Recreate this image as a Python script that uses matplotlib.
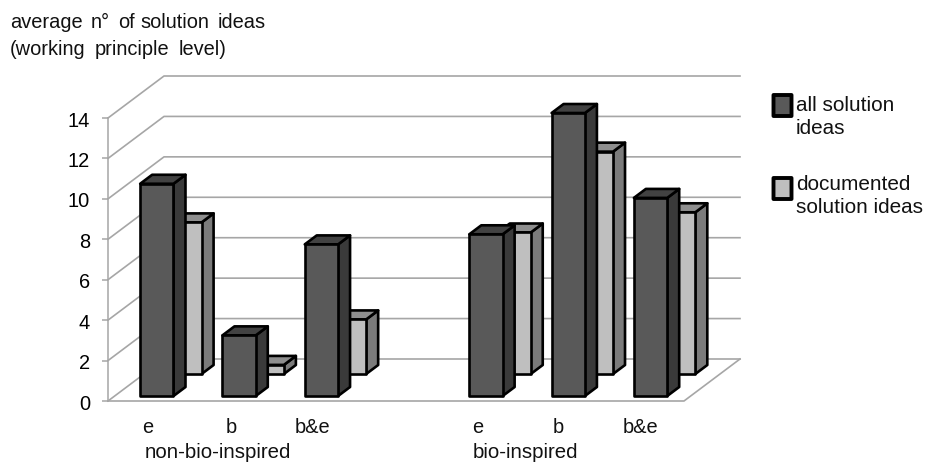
# %%
import matplotlib
matplotlib.use('Agg')
import matplotlib.pyplot as plt
from matplotlib.patches import Polygon, FancyBboxPatch

plt.rcParams['font.family'] = ['Liberation Sans', 'DejaVu Sans']

# %%
categories = ['e', 'b', 'b&e', '', 'e', 'b', 'b&e']
groups = ['non-bio-inspired', 'bio-inspired']
all_ideas = [10.5, 3.0, 7.5, None, 8.0, 14.0, 9.8]
documented = [7.5, 0.45, 2.7, None, 7.0, 11.0, 8.0]
y_ticks = [0, 2, 4, 6, 8, 10, 12, 14]

W, H = 926, 464
# pixel size of the plot box front face
left, right, bottom, top = 108, 684, 402, 119
# full chart depth in data units (56 px across, 42 px up)
depth_x = 56 / ((right - left) / 7)
depth_y = 42 / ((bottom - top) / 14)

grid_col = '#a6a6a6'
dark = ('#595959', '#3a3a3a', '#424242')
light = ('#bfbfbf', '#7b7b7b', '#8e8e8e')
fs = 14.4
fs_wide = 14.7
fs_legend = 14.95

# %%
def proj(x, y, d):
    return x + d * depth_x, y + d * depth_y

def box(ax, x0, x1, val, d0, d1, cols, z):
    front = [proj(x0, 0, d0), proj(x1, 0, d0), proj(x1, val, d0), proj(x0, val, d0)]
    side = [proj(x1, 0, d0), proj(x1, 0, d1), proj(x1, val, d1), proj(x1, val, d0)]
    lid = [proj(x0, val, d0), proj(x1, val, d0), proj(x1, val, d1), proj(x0, val, d1)]
    for pts, c in zip((side, lid, front), (cols[1], cols[2], cols[0])):
        ax.add_patch(Polygon(pts, closed=True, fc=c, ec='black', lw=1.9,
                             joinstyle='round', clip_on=False, zorder=z))

# %%
fig = plt.figure(figsize=(W / 100, H / 100), dpi=100)
ax = fig.add_axes([left / W, 1 - bottom / H, (right - left) / W, (bottom - top) / H])
ax.set_xlim(0, 7)
ax.set_ylim(0, 14)
ax.patch.set_visible(False)

for s in ['top', 'right', 'bottom']:
    ax.spines[s].set_visible(False)
ax.spines['left'].set_color(grid_col)
ax.spines['left'].set_linewidth(1.1)
ax.set_xticks([])
ax.set_yticks(y_ticks)
ax.tick_params(axis='y', color=grid_col, width=1.1, length=4, pad=9, labelsize=fs)

# back wall, side wall and floor lines
for v in y_ticks:
    xs, ys = zip(proj(0, v, 0), proj(0, v, 1), proj(7, v, 1))
    ax.plot(xs, ys, color=grid_col, lw=1.2, clip_on=False, zorder=1)
xs, ys = zip(proj(0, 0, 0), proj(7, 0, 0), proj(7, 0, 1))
ax.plot(xs, ys, color=grid_col, lw=1.2, clip_on=False, zorder=1)

# back row first so the front row covers it
for i, v in enumerate(documented):
    if v is not None:
        box(ax, i + 0.3, i + 0.7, v, 0.643, 0.857, light, 2 + i * 0.01)
for i, v in enumerate(all_ideas):
    if v is not None:
        box(ax, i + 0.31, i + 0.715, v, 0.119, 0.333, dark, 3 + i * 0.01)

# %%
def px_text(x, y, s, size=fs, **kw):
    fig.text(x / W, 1 - y / H, s, fontsize=size, color='#111111', va='baseline', **kw)

# the axis title has wide word gaps, so each word gets its own spot
for x, word in zip([10, 91, 118, 140, 218], 'average n° of solution ideas'.split()):
    px_text(x, 28, word)
for x, word in zip([10, 95, 179], '(working principle level)'.split()):
    px_text(x, 55, word)

label_x = [148, 231, 312, None, 478, 558, 641]
for x, c in zip(label_x, categories):
    if x is not None:
        px_text(x, 433, c, ha='center')
px_text(145, 458, groups[0], size=fs_wide)
px_text(473, 458, groups[1], size=fs_wide)

# legend
for y0, cols in ((96, dark), (179, light)):
    fig.add_artist(FancyBboxPatch((773.5 / W, 1 - (y0 + 21) / H), 18 / W, 21 / H,
                                  boxstyle='round,pad=0', transform=fig.transFigure,
                                  fc=cols[0], ec='black', lw=2.8, joinstyle='round'))
px_text(796, 111, 'all solution', size=fs_legend)
px_text(796, 134, 'ideas', size=fs_legend)
px_text(796, 190, 'documented', size=fs_legend)
px_text(796, 213, 'solution ideas', size=fs_legend)

fig.savefig('out.png', dpi=100)
